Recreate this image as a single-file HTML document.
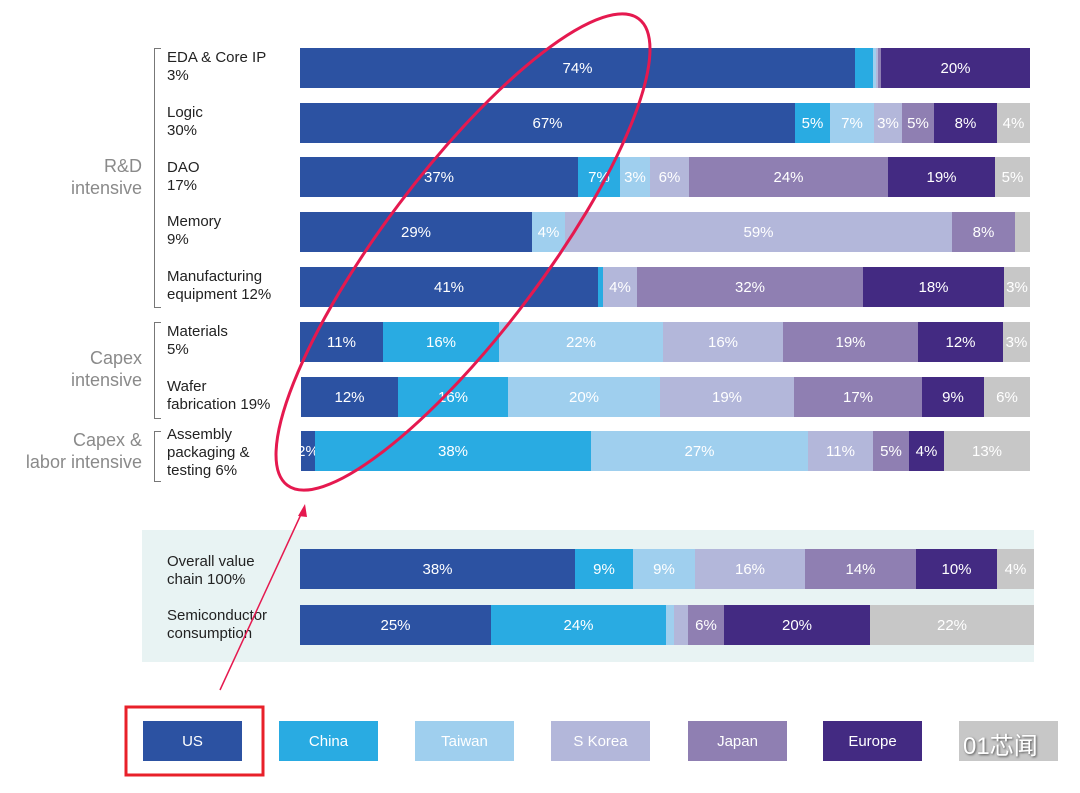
<!DOCTYPE html><html><head><meta charset="utf-8"><style>
body{margin:0;width:1080px;height:793px;background:#fff;position:relative;overflow:hidden;font-family:"Liberation Sans","Noto Sans CJK SC",sans-serif}
.s{position:absolute;color:#fff;font-size:15px;display:flex;align-items:center;justify-content:center;overflow:hidden;white-space:nowrap}
.l{position:absolute;font-size:15px;color:#222;line-height:18px}
.g{position:absolute;font-size:18px;color:#8a8a8a;text-align:right;line-height:22px;width:140px;left:2px}
.lg{position:absolute;top:721px;height:40px;width:99px;color:#fff;font-size:15px;display:flex;align-items:center;justify-content:center}
.br{position:absolute;left:154px;width:6px;border:1px solid #777;border-right:none}
</style></head><body>
<div style="position:absolute;left:142px;top:530px;width:892px;height:132px;background:#e8f3f3"></div>
<div class="br" style="top:48px;height:258px"></div>
<div class="br" style="top:322px;height:95px"></div>
<div class="br" style="top:431px;height:49px"></div>
<div class="g" style="top:155px">R&amp;D<br>intensive</div>
<div class="g" style="top:347px">Capex<br>intensive</div>
<div class="g" style="top:429px;left:-10px;width:152px">Capex &amp;<br>labor intensive</div>
<div class="l" style="left:167px;top:49px">EDA &amp; Core IP<br>3%</div>
<div class="l" style="left:167px;top:104px">Logic<br>30%</div>
<div class="l" style="left:167px;top:159px">DAO<br>17%</div>
<div class="l" style="left:167px;top:213px">Memory<br>9%</div>
<div class="l" style="left:167px;top:268px">Manufacturing<br>equipment 12%</div>
<div class="l" style="left:167px;top:323px">Materials<br>5%</div>
<div class="l" style="left:167px;top:378px">Wafer<br>fabrication 19%</div>
<div class="l" style="left:167px;top:426px">Assembly<br>packaging &amp;<br>testing 6%</div>
<div class="l" style="left:167px;top:553px">Overall value<br>chain 100%</div>
<div class="l" style="left:167px;top:607px">Semiconductor<br>consumption</div>
<div id="bars"></div>
<div class="lg" style="left:143px;background:#2c52a2">US</div>
<div class="lg" style="left:279px;background:#29abe2">China</div>
<div class="lg" style="left:415px;background:#9fcfee">Taiwan</div>
<div class="lg" style="left:551px;background:#b3b7da">S Korea</div>
<div class="lg" style="left:688px;background:#8f7fb2">Japan</div>
<div class="lg" style="left:823px;background:#432a82">Europe</div>
<div class="lg" style="left:959px;background:#c7c7c7"></div>
<div style="position:absolute;left:963px;top:726px;font-size:24px;color:#fff;text-shadow:1px 1px 2px #555">01芯闻</div>
<svg style="position:absolute;left:0;top:0" width="1080" height="793">
<rect x="126" y="707" width="137" height="68" fill="none" stroke="#e8202a" stroke-width="3"/>
<ellipse cx="463" cy="252" rx="292" ry="80" transform="rotate(-53 463 252)" fill="none" stroke="#e5194f" stroke-width="3"/>
<line x1="220" y1="690" x2="303" y2="510" stroke="#e5194f" stroke-width="1.5"/>
<polygon points="305,504 298,516 307,517" fill="#e5194f"/>
</svg>
<script>
var C=["#2c52a2","#29abe2","#9fcfee","#b3b7da","#8f7fb2","#432a82","#c7c7c7"];
var R=[[48,[300,855,873,876,878,881,1030,1030],["74%","","","","","20%",""]],
[103,[300,795,830,874,902,934,997,1030],["67%","5%","7%","3%","5%","8%","4%"]],
[157,[300,578,620,650,689,888,995,1030],["37%","7%","3%","6%","24%","19%","5%"]],
[212,[300,532,532,565,952,1015,1015,1030],["29%","","4%","59%","8%","",""]],
[267,[300,598,603,603,637,863,1004,1030],["41%","","","4%","32%","18%","3%"]],
[322,[300,383,499,663,783,918,1003,1030],["11%","16%","22%","16%","19%","12%","3%"]],
[377,[301,398,508,660,794,922,984,1030],["12%","16%","20%","19%","17%","9%","6%"]],
[431,[301,315,591,808,873,909,944,1030],["2%","38%","27%","11%","5%","4%","13%"]],
[549,[300,575,633,695,805,916,997,1034],["38%","9%","9%","16%","14%","10%","4%"]],
[605,[300,491,666,674,688,724,870,1034],["25%","24%","","","6%","20%","22%"]]];
var h="";R.forEach(function(r){for(var i=0;i<7;i++){var a=r[1][i],b=r[1][i+1];if(b>a)h+='<div class="s" style="left:'+a+'px;top:'+r[0]+'px;width:'+(b-a)+'px;height:40px;background:'+C[i]+'">'+r[2][i]+'</div>';}});
document.getElementById("bars").innerHTML=h;
</script>
</body></html>
